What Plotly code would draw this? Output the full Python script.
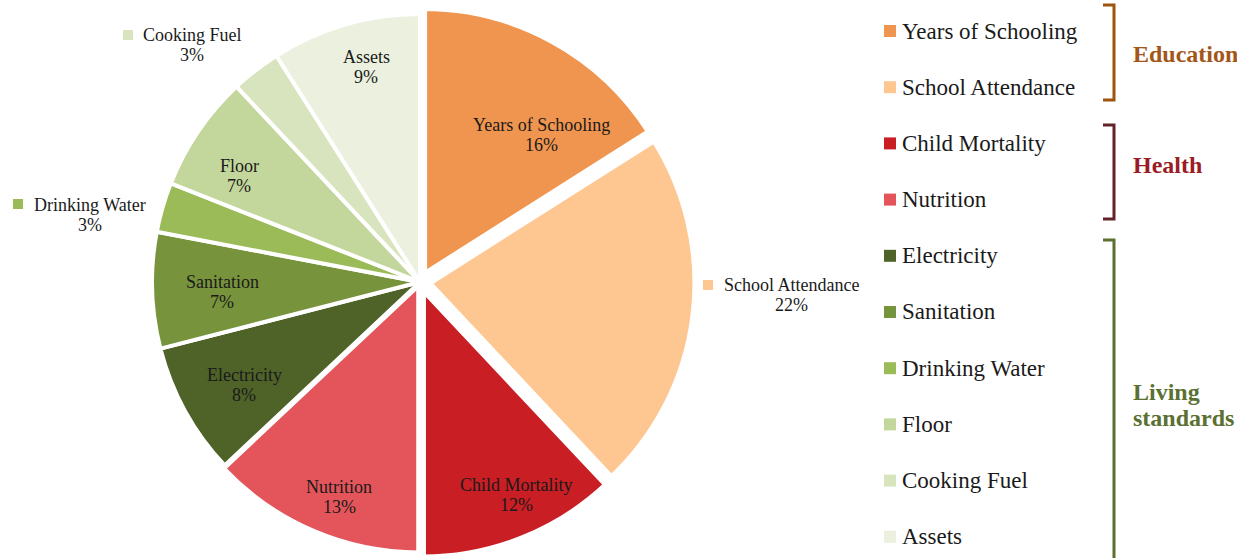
import plotly.graph_objects as go

W, H = 1237, 558

# ---- data ----
categories = ["Years of Schooling", "School Attendance", "Child Mortality", "Nutrition",
              "Electricity", "Sanitation", "Drinking Water", "Floor", "Cooking Fuel", "Assets"]
values = [16, 22, 12, 13, 8, 7, 3, 7, 3, 9]
group_names = [["Education"], ["Health"], ["Living", "standards"]]

# ---- styles / layout settings ----
colors = ["#F0954F", "#FEC792", "#C81E24", "#E3555A", "#4F6228",
          "#77933C", "#9BBB59", "#C3D69B", "#D7E4BD", "#EBF1DE"]
pulls = [0.028, 0.03, 0.03, 0.012, 0, 0, 0, 0, 0, 0]
border_widths = [7, 7, 6, 5, 4, 4, 4, 4, 4, 4]
# label block centres (px) for each slice
label_pos = [(541, 135), (791, 295), (516, 495), (339, 497), (244, 385),
             (222, 292), (90, 215), (239, 176), (192, 45), (366, 67)]
key_pos = {1: (703, 280), 6: (13, 199), 8: (123, 30)}   # colour keys of outside labels

group_colors = ["#A3561A", "#9A1C24", "#5B7032"]
bracket_colors = ["#A0520F", "#64232A", "#5C7030"]
brackets = [(5, 100), (125, 219), (240, 575)]
group_label_pos = [(1131, 54), (1131, 165), (1131, 405)]

legend_y = [31 + i * 56.2 for i in range(len(categories))]

FONT = "Liberation Serif"
PIE_CX, PIE_TOP = 420, 6


def px(x):
    return x / W


def py(y):
    return 1 - y / H


fig = go.Figure(go.Pie(
    labels=categories, values=values, sort=False, direction="clockwise", rotation=0,
    marker=dict(colors=colors, line=dict(color="white", width=border_widths)),
    pull=pulls, textinfo="none", hoverinfo="label+percent",
    domain=dict(x=[px(PIE_CX - 300), px(PIE_CX + 300)], y=[0, py(PIE_TOP)]),
    showlegend=False,
))

annotations = []
shapes = []


def text(x, y, s, size, color, anchor="center"):
    annotations.append(dict(
        x=px(x), y=py(y), xref="paper", yref="paper", xanchor=anchor, yanchor="middle",
        text=s, showarrow=False, font=dict(family=FONT, size=size, color=color)))


# slice labels
for i, (cat, v) in enumerate(zip(categories, values)):
    x, y = label_pos[i]
    text(x, y - 10, cat, 18, "#1a1a1a")
    text(x, y + 10, f"{v}%", 18, "#1a1a1a")
for i, (kx, ky) in key_pos.items():
    shapes.append(dict(type="rect", xref="paper", yref="paper",
                       x0=px(kx), x1=px(kx + 10), y0=py(ky), y1=py(ky + 10),
                       fillcolor=colors[i], line=dict(width=0)))

# custom legend
for i, cat in enumerate(categories):
    yc = legend_y[i]
    shapes.append(dict(type="rect", xref="paper", yref="paper",
                       x0=px(884), x1=px(896), y0=py(yc - 6), y1=py(yc + 6),
                       fillcolor=colors[i], line=dict(width=0)))
    text(900, yc, cat, 23, "#1a1a1a", anchor="left")

# brackets and group labels
for g, (y0, y1) in enumerate(brackets):
    shapes.append(dict(type="path", xref="paper", yref="paper",
                       path=f"M {px(1103)} {py(y0)} L {px(1114)} {py(y0)} L {px(1114)} {py(y1)} L {px(1103)} {py(y1)}",
                       line=dict(color=bracket_colors[g], width=3)))
    gx, gy = group_label_pos[g]
    lines = group_names[g]
    for k, ln in enumerate(lines):
        yy = gy + (k - (len(lines) - 1) / 2) * 26
        text(gx, yy, f"<b>{ln}</b>", 24, group_colors[g], anchor="left")

fig.update_layout(
    width=W, height=H, margin=dict(l=0, r=0, t=0, b=0),
    paper_bgcolor="white", plot_bgcolor="white",
    annotations=annotations, shapes=shapes,
)

fig.write_html("out.html", config={"displayModeBar": False},
               post_script="document.body.style.margin='0';document.body.style.overflow='hidden';")
